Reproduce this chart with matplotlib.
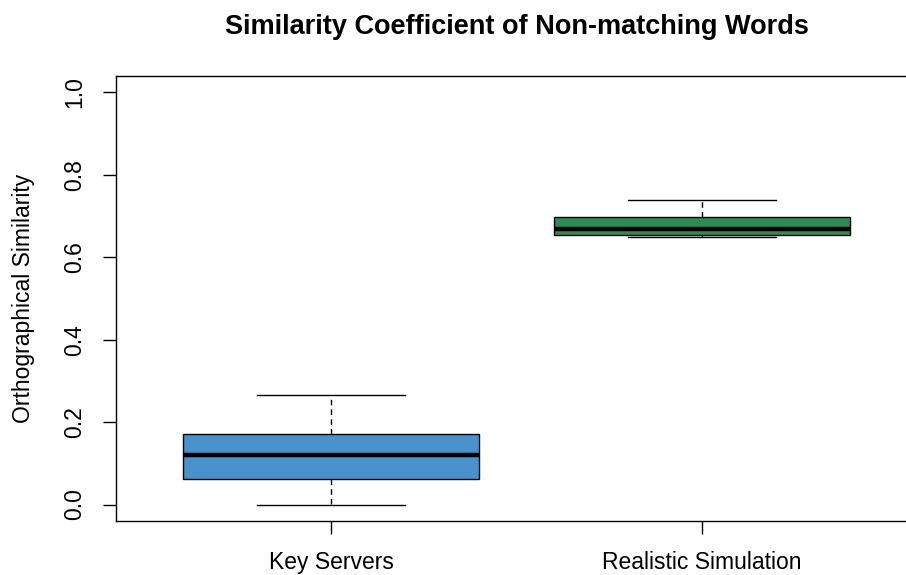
import matplotlib.pyplot as plt

plt.rcParams['font.family'] = ['Liberation Sans', 'DejaVu Sans']

groups = ['Key Servers', 'Realistic Simulation']
colors = ['#4A92CB', '#2E8B57']

# five-number summaries per group
whisker_low = [0.000, 0.649]
q1 = [0.063, 0.653]
median = [0.121, 0.669]
q3 = [0.170, 0.697]
whisker_high = [0.267, 0.738]

W, H = 906, 575
fig = plt.figure(figsize=(W / 100, H / 100), dpi=100)
ax = fig.add_axes([116 / W, (H - 521) / H, (917 - 116) / W, (521 - 76) / H])

stats = []
for i, name in enumerate(groups):
    stats.append(dict(label=name, whislo=whisker_low[i], q1=q1[i], med=median[i],
                      q3=q3[i], whishi=whisker_high[i], fliers=[]))

bp = ax.bxp(stats, positions=[1, 2], widths=0.8, patch_artist=True,
            showfliers=False,
            boxprops=dict(linewidth=1.0, edgecolor='black'),
            medianprops=dict(color='black', linewidth=3.2, solid_capstyle='butt'),
            whiskerprops=dict(color='black', linewidth=1.0, linestyle=(0, (4, 3))),
            capprops=dict(color='black', linewidth=1.0),
            capwidths=0.4)
for patch, c in zip(bp['boxes'], colors):
    patch.set_facecolor(c)

ax.set_xlim(0.42, 2.58)
ax.set_ylim(-0.04, 1.04)
ax.set_yticks([0.0, 0.2, 0.4, 0.6, 0.8, 1.0])
ax.set_yticklabels(['0.0', '0.2', '0.4', '0.6', '0.8', '1.0'], rotation=90, va='center')
ax.tick_params(axis='both', direction='out', length=9.5, width=1, labelsize=16.5)
ax.tick_params(axis='y', pad=12)
ax.tick_params(axis='x', pad=12)
ax.spines['right'].set_visible(False)
for s in ax.spines.values():
    s.set_linewidth(1.0)

ax.set_ylabel('Orthographical Similarity', fontsize=16.5, labelpad=20)
ax.set_title('Similarity Coefficient of Non-matching Words', fontsize=19.5,
             fontweight='bold', pad=30)

fig.savefig('out.png', dpi=100)
